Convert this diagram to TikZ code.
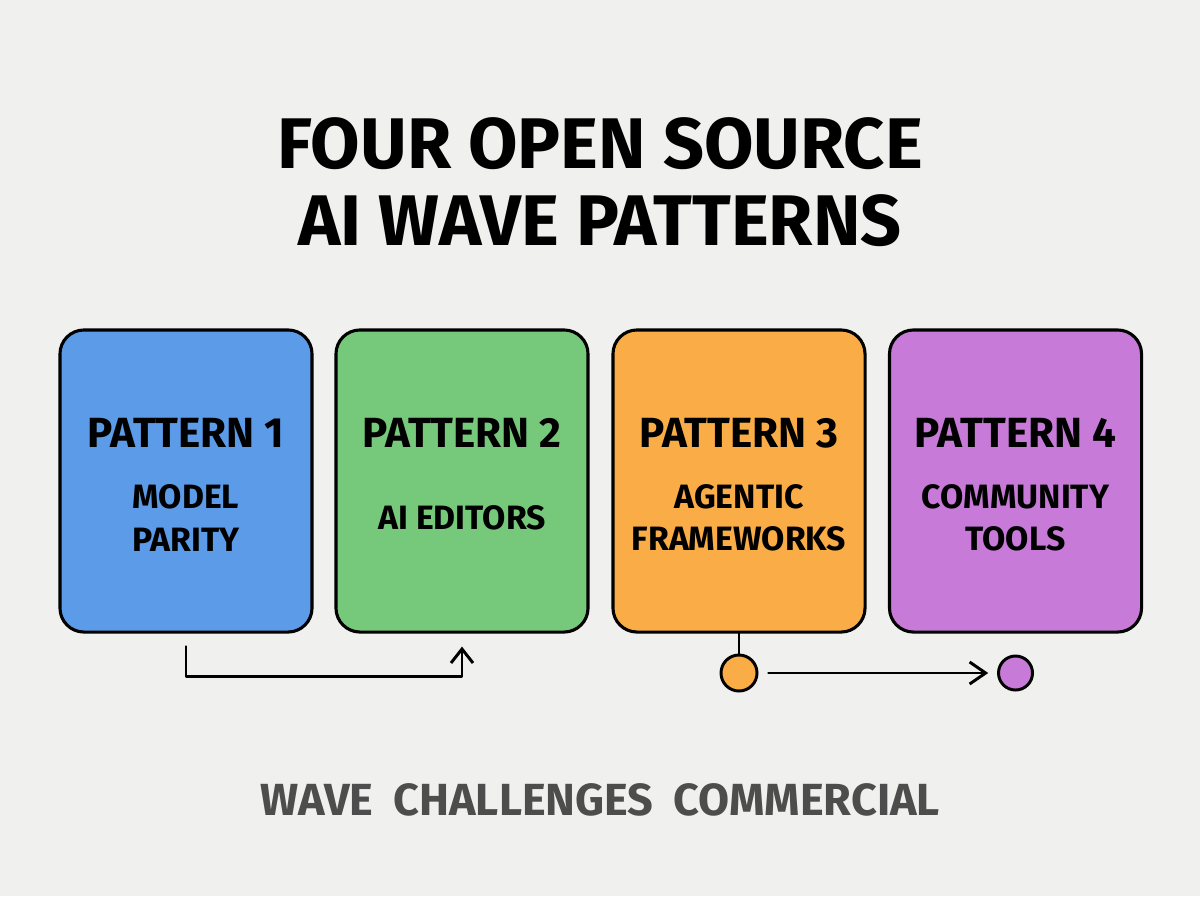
\documentclass[tikz,border=0pt]{standalone}
\usepackage{fontspec}
\setmainfont{Fira Sans}
\usetikzlibrary{arrows.meta,calc}
\definecolor{paper}{RGB}{240,240,238}
\definecolor{pblue}{RGB}{91,155,232}
\definecolor{pgreen}{RGB}{118,200,122}
\definecolor{porange}{RGB}{250,172,70}
\definecolor{ppurple}{RGB}{200,122,216}
\definecolor{capgray}{RGB}{77,77,77}
\tikzset{
  patbox/.style={draw=black, line width=2.2pt, rounded corners=0.6cm,
    minimum width=6.3cm, minimum height=7.55cm, inner sep=0pt},
  headtxt/.style={font=\fontsize{30}{36}\selectfont\bfseries},
  subtxt/.style={font=\fontsize{24}{30}\selectfont\bfseries, align=center},
  conn/.style={line width=2.1pt, line cap=round, line join=round},
  dot/.style={circle, draw=black, line width=2.1pt, inner sep=0pt}
}

\begin{document}
\begin{tikzpicture}[x=0.025cm, y=-0.025cm]
		%%%%% START %%%%%
		
		\fill[paper] (0,0) rectangle (1200,896);
		\useasboundingbox (0,0) rectangle (1200,896);
		
		\node[font=\fontsize{51}{55}\selectfont\bfseries, align=center] (title) at (600,182)
			{FOUR OPEN SOURCE\\AI WAVE PATTERNS};
		
		\node[patbox, fill=pblue] (p1) at (186,481) {};
		\node[patbox, fill=pgreen] (p2) at (462,481) {};
		\node[patbox, fill=porange] (p3) at (739,481) {};
		\node[patbox, fill=ppurple] (p4) at (1015.5,481) {};
		
		\node[headtxt] (h1) at (186,433) {PATTERN 1};
		\node[headtxt] (h2) at (462,433) {PATTERN 2};
		\node[headtxt] (h3) at (739,433) {PATTERN 3};
		\node[headtxt] (h4) at (1015.5,433) {PATTERN 4};
		
		\node[subtxt] (s1) at (186,518) {MODEL\\PARITY};
		\node[subtxt] (s2) at (462,518) {AI EDITORS};
		\node[subtxt] (s3) at (739,518) {AGENTIC\\FRAMEWORKS};
		\node[subtxt] (s4) at (1015.5,518) {COMMUNITY\\TOOLS};
		
		\coordinate (a1) at ($(p1.south)+(0,13)$);
		\coordinate (a2) at ($(p2.south)+(0,13)$);
		\draw[conn, -{Straight Barb[length=0.35cm, width=0.55cm]}] (a1) -- ++(0,30) -| (a2);
		
		\node[dot, fill=porange, minimum size=0.9cm] (d3) at (739,673) {};
		\node[dot, fill=ppurple, minimum size=0.85cm] (d4) at (1015.5,673) {};
		\draw[conn] (p3.south) -- (d3.north);
		\draw[conn, -{Straight Barb[length=0.4cm, width=0.55cm]}, shorten <=0.25cm, shorten >=0.22cm] (d3.east) -- (d4.west);
		
		\node[font=\fontsize{32}{40}\selectfont\bfseries, text=capgray] (note) at (600,800)
			{WAVE\hspace{0.45em}CHALLENGES\hspace{0.45em}COMMERCIAL};
		
		%%%%% END %%%%%
	\end{tikzpicture}
\end{document}
